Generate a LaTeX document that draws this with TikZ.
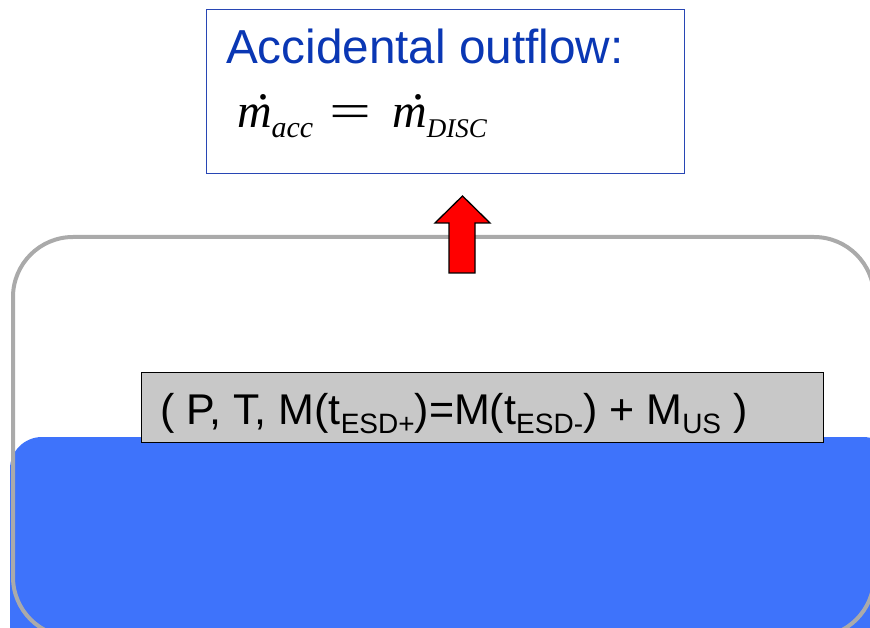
\documentclass[tikz,border=0pt]{standalone}
\usepackage{fontspec}
\setmainfont{Liberation Sans}
\newfontfamily\boxfont{Liberation Sans}
\newfontfamily\tms{Liberation Serif}
\definecolor{titleblue}{RGB}{10,55,180}
\definecolor{frameblue}{RGB}{40,70,180}
\definecolor{liquid}{RGB}{62,115,251}
\definecolor{vessel}{RGB}{170,170,170}
\definecolor{boxgray}{RGB}{200,200,200}
\newcommand{\lowsub}[1]{\raisebox{-9pt}{\fontsize{28}{30}\selectfont #1}}
\newcommand{\itsub}[2]{\raisebox{-10pt}{\fontsize{#1}{30}\selectfont\itshape #2}}
\newcommand{\mdot}{\makebox[0pt][l]{\hspace{0.42em}\raisebox{0.6em}{.}}\textit{m}}
\tikzset{
  txt/.style={inner sep=0pt, outer sep=0pt},
}
\begin{document}
\begin{tikzpicture}[x=1pt,y=-1pt]
\useasboundingbox (0,0) rectangle (870,628);
% liquid
\fill[liquid, rounded corners=32pt] (10,437) rectangle (895,660);
% vessel outline
\draw[vessel, line width=4pt, rounded corners=60pt] (13,237) rectangle (874,637);
% state box
\node[draw=black, line width=1.3pt, fill=boxgray, minimum width=682pt, minimum height=70pt, inner sep=0pt, anchor=north west] (state) at (141,372) {};
\node[txt, anchor=base west, font=\boxfont\fontsize{43}{50}\selectfont] (statetext) at (160,424)
  {( P, T, M(t\lowsub{ESD+})=M(t\lowsub{ESD-}) + M\lowsub{US} )};
% outflow box
\node[draw=frameblue, line width=1.2pt, fill=white, minimum width=478pt, minimum height=164pt, inner sep=0pt, anchor=north west] (outbox) at (206,9) {};
\node[txt, anchor=base west, text=titleblue, font=\fontsize{47.7}{56}\selectfont] (title) at (226,64) {Accidental outflow:};
\node[txt, anchor=base west, font=\tms\fontsize{48}{58}\selectfont] (formula) at (237,128)
  {\mdot\itsub{30}{acc}\hspace{16pt}\scalebox{1.55}[1]{=}\hspace{21pt}\mdot\itsub{27}{DISC}};
% red arrow
\draw[black, line width=1.3pt, fill=red, line join=miter]
  (462.5,196) -- (490,223) -- (475,223) -- (475,273) -- (449,273) -- (449,223) -- (435,223) -- cycle;
\end{tikzpicture}
\end{document}
